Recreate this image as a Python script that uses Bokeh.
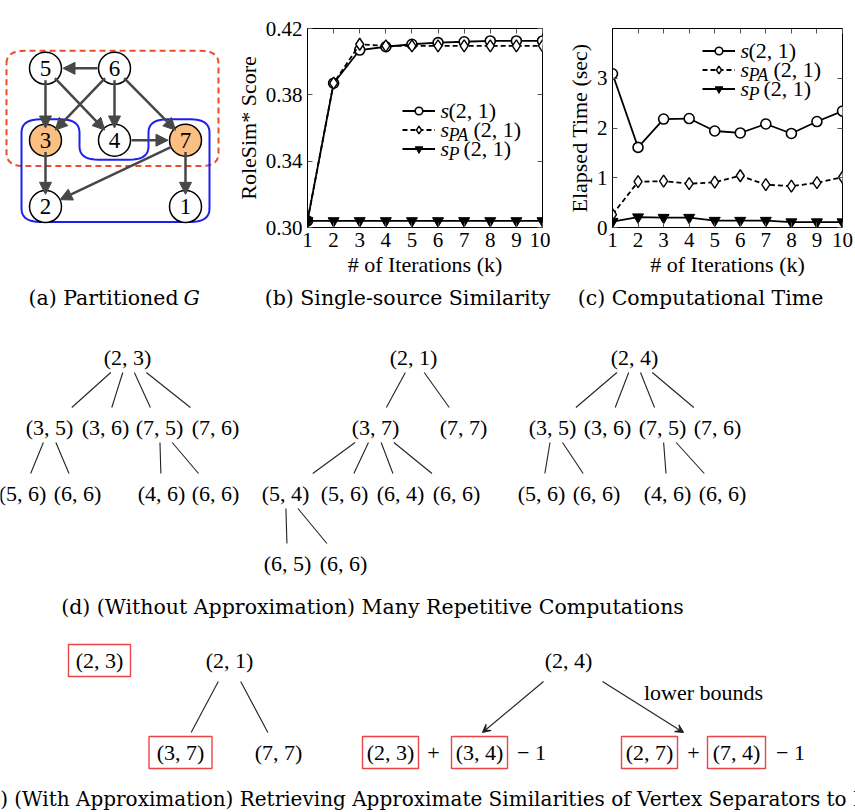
import numpy as np
from bokeh.plotting import figure
from bokeh.layouts import column, row
from bokeh.models import (ColumnDataSource, Range1d, LinearAxis, FixedTicker,
                          PrintfTickFormatter, CustomJSTickFormatter, Legend, LegendItem,
                          Label, Arrow, NormalHead, VeeHead)
from bokeh.core.properties import value
from bokeh.embed import file_html
from bokeh.resources import INLINE

SERIF = "Liberation Serif"
CAPTION_FONT = "DejaVu Serif"
TOP_H = 285

# ---------------- chart data ----------------
iterations = [1, 2, 3, 4, 5, 6, 7, 8, 9, 10]

score_s = [0.304, 0.387, 0.407, 0.409, 0.4105, 0.4115, 0.412, 0.4125, 0.4125, 0.4125]
score_spa = [0.304, 0.387, 0.4105, 0.4095, 0.4095, 0.4095, 0.4095, 0.4095, 0.4095, 0.4095]
score_sp = [0.304, 0.304, 0.304, 0.304, 0.304, 0.304, 0.304, 0.304, 0.304, 0.304]
score_ticks = [0.30, 0.34, 0.38, 0.42]

# elapsed time in units of 1e-4 s
time_s = [3.09, 1.61, 2.18, 2.19, 1.94, 1.90, 2.08, 1.89, 2.13, 2.34]
time_spa = [0.26, 0.92, 0.93, 0.88, 0.91, 1.04, 0.86, 0.83, 0.90, 1.01]
time_sp = [0.12, 0.21, 0.20, 0.20, 0.14, 0.14, 0.14, 0.11, 0.11, 0.11]
time_ticks = [0, 1, 2, 3]

series_subscripts = ["", "PA", "P"]

# ---------------- graph (a) ----------------
node_names = ["5", "6", "3", "4", "7", "2", "1"]
node_x = [45, 114, 45, 114, 185, 45, 185]
node_y = [57, 57, 160, 160, 160, 255, 255]
node_fill = ["white", "white", "#FBBF82", "white", "#FBBF82", "white", "white"]
graph_edges = [("6", "5"), ("5", "3"), ("5", "4"), ("6", "3"), ("6", "4"),
               ("6", "7"), ("4", "7"), ("3", "2"), ("7", "2"), ("7", "1")]
NODE_R = 16

# ---------------- trees (d) ----------------
tree_labels = ["(2, 3)", "(3, 5)", "(3, 6)", "(7, 5)", "(7, 6)",
               "(5, 6)", "(6, 6)", "(4, 6)", "(6, 6)",
               "(2, 1)", "(3, 7)", "(7, 7)", "(5, 4)", "(5, 6)", "(6, 4)", "(6, 6)",
               "(6, 5)", "(6, 6)",
               "(2, 4)", "(3, 5)", "(3, 6)", "(7, 5)", "(7, 6)",
               "(5, 6)", "(6, 6)", "(4, 6)", "(6, 6)"]
tree_x = [127, 49, 105, 159, 215, 22, 77, 161, 215,
          413, 375, 463, 285, 344, 400, 456, 287, 343,
          634, 552, 607, 662, 717, 541, 596, 667, 722]
tree_y = [357, 427, 427, 427, 427, 493, 493, 493, 493,
          357, 427, 427, 493, 493, 493, 493, 563, 563,
          357, 427, 427, 427, 427, 493, 493, 493, 493]
tree_edges = [(0, 1), (0, 2), (0, 3), (0, 4), (1, 5), (1, 6), (3, 7), (3, 8),
              (9, 10), (9, 11), (10, 12), (10, 13), (10, 14), (10, 15), (12, 16), (12, 17),
              (18, 19), (18, 20), (18, 21), (18, 22), (19, 23), (19, 24), (21, 25), (21, 26)]

# ---------------- approximation (e) ----------------
approx_labels = ["(2, 3)", "(2, 1)", "(3, 7)", "(7, 7)", "(2, 4)",
                 "(2, 3)", "(3, 4)", "(2, 7)", "(7, 4)"]
approx_x = [99, 229, 180, 278, 568, 390, 479, 649, 736]
approx_y = [660, 660, 752, 752, 660, 752, 752, 752, 752]
boxed_idx = [0, 2, 5, 6, 7, 8]
box_w = [62, 63, 56, 56, 56, 58]
approx_edges = [(1, 2), (1, 3)]
ops_text = ["+", "\u2212 1", "+", "\u2212 1"]
ops_x = [433, 531, 693, 790]
ops_y = [752, 752, 752, 752]


def rounded_path(pts, r, n=10):
    xs, ys = [], []
    m = len(pts)
    for i in range(m):
        p0 = np.array(pts[i - 1], float)
        p1 = np.array(pts[i], float)
        p2 = np.array(pts[(i + 1) % m], float)
        d0 = (p0 - p1) / np.linalg.norm(p0 - p1)
        d2 = (p2 - p1) / np.linalg.norm(p2 - p1)
        a = p1 + d0 * r
        b = p1 + d2 * r
        for t in np.linspace(0, 1, n):
            q = (1 - t) ** 2 * a + 2 * (1 - t) * t * p1 + t ** 2 * b
            xs.append(q[0])
            ys.append(q[1])
    xs.append(xs[0])
    ys.append(ys[0])
    return xs, ys


def blank_fig(width, height, x0, x1, y0, y1):
    p = figure(width=width, height=height, x_range=Range1d(x0, x1), y_range=Range1d(y0, y1),
               x_axis_type=None, y_axis_type=None, output_backend="svg",
               toolbar_location=None, min_border=0, outline_line_color=None)
    p.grid.visible = False
    p.background_fill_color = "white"
    p.border_fill_color = "white"
    return p


# ---------------- (a) partitioned graph ----------------
fa = blank_fig(230, TOP_H, 0, 230, TOP_H, 0)

rx, ry = rounded_path([(6, 32), (218, 32), (218, 197), (6, 197)], 18)
fa.line(rx, ry, line_color="#EE4B2B", line_width=2, line_dash="6 4")
bx, by = rounded_path([(21, 130), (79, 130), (79, 188), (148, 188), (148, 130),
                       (209, 130), (209, 277), (21, 277)], 19)
fa.line(bx, by, line_color="#1E1EF0", line_width=2)

pos = {n: (x, y) for n, x, y in zip(node_names, node_x, node_y)}
ex0, ey0, ex1, ey1 = [], [], [], []
for s, t in graph_edges:
    (x0, y0), (x1, y1) = pos[s], pos[t]
    d = np.hypot(x1 - x0, y1 - y0)
    ux, uy = (x1 - x0) / d, (y1 - y0) / d
    ex0.append(x0 + ux * (NODE_R + 1))
    ey0.append(y0 + uy * (NODE_R + 1))
    ex1.append(x1 - ux * (NODE_R + 1.5))
    ey1.append(y1 - uy * (NODE_R + 1.5))
edge_src = ColumnDataSource(dict(x0=ex0, y0=ey0, x1=ex1, y1=ey1))
fa.add_layout(Arrow(x_start="x0", y_start="y0", x_end="x1", y_end="y1", source=edge_src,
                    line_color="#474747", line_width=2.5,
                    end=NormalHead(size=12, fill_color="#474747", line_color="#474747",
                                   line_width=1)))

node_src = ColumnDataSource(dict(x=node_x, y=node_y, name=node_names, fill=node_fill))
fa.circle(x="x", y="y", radius=NODE_R, source=node_src, fill_color="fill",
          line_color="black", line_width=1.5)
fa.text(x="x", y="y", text="name", source=node_src, text_font=value(SERIF),
        text_font_size="23px", text_align="center", text_baseline="middle",
        text_color="black")

blank_labels = CustomJSTickFormatter(code="return ''")


# ---------------- (b), (c) line charts ----------------
def line_chart(width, bl, br, ylabel, yrange, yticks, yfmt, ys, legend_xy, txt):
    p = figure(width=width, height=TOP_H, x_range=Range1d(1, 10), y_range=Range1d(*yrange),
               output_backend="svg", toolbar_location=None,
               min_border_left=bl, min_border_right=br, min_border_top=28,
               min_border_bottom=TOP_H - 227, outline_line_color="black",
               outline_line_width=1)
    p.grid.visible = False
    p.border_fill_color = "white"

    p.xaxis.ticker = FixedTicker(ticks=iterations)
    p.yaxis.ticker = FixedTicker(ticks=yticks)
    if yfmt:
        p.yaxis.formatter = PrintfTickFormatter(format=yfmt)
    p.xaxis.axis_label = "# of Iterations (k)"
    p.yaxis.axis_label = ylabel
    for ax in (p.xaxis, p.yaxis):
        ax.major_tick_in = 5
        ax.major_tick_out = 0
        ax.minor_tick_in = 0
        ax.minor_tick_out = 0
        ax.major_tick_line_color = "#555555"
        ax.axis_line_color = "black"
        ax.major_label_text_font = SERIF
        ax.major_label_text_font_size = "21px"
        ax.major_label_text_color = "black"
        ax.axis_label_text_font = SERIF
        ax.axis_label_text_font_size = "22px"
        ax.axis_label_text_font_style = "normal"
        ax.axis_label_text_color = "black"
        ax.major_label_standoff = 5
        ax.axis_label_standoff = 2

    for loc, ticks in (("right", yticks), ("above", iterations)):
        mirror = LinearAxis(ticker=FixedTicker(ticks=ticks), formatter=blank_labels,
                            major_label_text_font_size="8px",
                            major_label_standoff=0, axis_line_color=None,
                            major_tick_in=5, major_tick_out=0,
                            minor_tick_in=0, minor_tick_out=0,
                            major_tick_line_color="#555555")
        p.add_layout(mirror, loc)

    y_s, y_pa, y_p = ys
    l1 = p.line(iterations, y_s, line_color="black", line_width=1.8)
    m1 = p.scatter(iterations, y_s, marker="circle", size=10, fill_color="white",
                   line_color="black", line_width=1.6)
    l2 = p.line(iterations, y_pa, line_color="black", line_width=1.8, line_dash="5 3")
    m2 = p.scatter(iterations, y_pa, marker="diamond", size=12, fill_color="white",
                   line_color="black", line_width=1.4)
    l3 = p.line(iterations, y_p, line_color="black", line_width=1.8)
    m3 = p.scatter(iterations, y_p, marker="inverted_triangle", size=11,
                   fill_color="black", line_color="black")

    legend = Legend(items=[LegendItem(label=value(""), renderers=[l1, m1]),
                           LegendItem(label=value(""), renderers=[l2, m2]),
                           LegendItem(label=value(""), renderers=[l3, m3])],
                    location=legend_xy, glyph_width=33, glyph_height=19,
                    label_width=0, label_height=19, label_standoff=0, spacing=0,
                    padding=0, margin=0, border_line_color=None,
                    background_fill_alpha=0, label_text_font_size="10px")
    p.add_layout(legend)

    xs, xsub, xpar, rows = txt
    for k in range(3):
        yy = rows[k]
        p.add_layout(Label(x=xs, y=yy, x_units="screen", y_units="screen", text="s",
                           text_font=SERIF, text_font_style="italic",
                           text_font_size="22px", text_baseline="middle",
                           text_color="black"))
        if series_subscripts[k]:
            p.add_layout(Label(x=xsub, y=yy - 5, x_units="screen", y_units="screen",
                               text=series_subscripts[k], text_font=SERIF,
                               text_font_style="italic", text_font_size="18px",
                               text_baseline="middle", text_color="black"))
        p.add_layout(Label(x=xpar[k], y=yy, x_units="screen", y_units="screen",
                           text="(2, 1)", text_font=SERIF, text_font_size="22px",
                           text_baseline="middle", text_color="black"))
    return p


fb = line_chart(320, 77, 8, "RoleSim* Score", (0.30, 0.42), score_ticks, "%.2f",
                (score_s, score_spa, score_sp), (95, 69.5),
                (133, 141, [141, 166, 156], [117, 98, 79]))
fc = line_chart(305, 62, 13, "Elapsed Time (sec)", (0, 4), time_ticks, None,
                (time_s, time_spa, time_sp), (90, 129.5),
                (128, 136, [136, 161, 151], [177, 158, 139]))
fc.add_layout(Label(x=8, y=210, x_units="screen", y_units="screen", text="\u00b710",
                    text_font=SERIF, text_font_size="21px", text_baseline="middle",
                    text_color="black"))
fc.add_layout(Label(x=34, y=215, x_units="screen", y_units="screen", text="\u22124",
                    text_font=SERIF, text_font_size="15px", text_baseline="middle",
                    text_color="black"))

# ---------------- lower panel: captions, trees ----------------
fd = blank_fig(855, 812 - TOP_H, 0, 855, 812, TOP_H)

# captions of the upper row
fd.text(x=[178], y=[297], text=["(a) Partitioned"], text_font=value(CAPTION_FONT),
        text_font_size="20.5px", text_align="right", text_baseline="middle",
        text_color="black")
fd.text(x=[183], y=[297], text=["G"], text_font=value(CAPTION_FONT), text_font_style="italic",
        text_font_size="20.5px", text_align="left", text_baseline="middle",
        text_color="black")
fd.text(x=[407, 700], y=[297, 297],
        text=["(b) Single-source Similarity", "(c) Computational Time"],
        text_font=value(CAPTION_FONT), text_font_size="20.5px", text_align="center",
        text_baseline="middle", text_color="black")

# tree edges: segments along the centre line, trimmed near the labels
sx0, sy0, sx1, sy1 = [], [], [], []
for a, b in tree_edges:
    px, py, cx, cy = tree_x[a], tree_y[a], tree_x[b], tree_y[b]
    t0 = 15 / (cy - py)
    t1 = (cy - py - 20) / (cy - py)
    sx0.append(px + (cx - px) * t0)
    sy0.append(py + (cy - py) * t0)
    sx1.append(px + (cx - px) * t1)
    sy1.append(py + (cy - py) * t1)
for a, b in approx_edges:
    px, py, cx, cy = approx_x[a], approx_y[a], approx_x[b], approx_y[b]
    t0 = 21 / (cy - py)
    t1 = (cy - py - 20) / (cy - py)
    sx0.append(px + (cx - px) * t0)
    sy0.append(py + (cy - py) * t0)
    sx1.append(px + (cx - px) * t1)
    sy1.append(py + (cy - py) * t1)
fd.segment(x0=sx0, y0=sy0, x1=sx1, y1=sy1, line_color="#222222", line_width=1.1)

fd.text(x=tree_x, y=tree_y, text=tree_labels, text_font=value(SERIF), text_font_size="22px",
        text_align="center", text_baseline="middle", text_color="black")
fd.text(x=[372], y=[606], text=["(d) (Without Approximation) Many Repetitive Computations"],
        text_font=value(CAPTION_FONT), text_font_size="20.5px", text_align="center",
        text_baseline="middle", text_color="black")

# (e) approximate retrieval
fd.rect(x=[approx_x[i] for i in boxed_idx], y=[approx_y[i] for i in boxed_idx],
        width=box_w, height=32, fill_color=None, line_color="#E8242A", line_width=1.4,
        line_alpha=0.85)
fd.text(x=approx_x, y=approx_y, text=approx_labels, text_font=value(SERIF),
        text_font_size="22px", text_align="center", text_baseline="middle",
        text_color="black")
fd.text(x=ops_x, y=ops_y, text=ops_text, text_font=value(SERIF), text_font_size="22px",
        text_align="center", text_baseline="middle", text_color="black")
arrow_src = ColumnDataSource(dict(x0=[543, 602], y0=[681, 681], x1=[482, 683], y1=[732, 732]))
fd.add_layout(Arrow(x_start="x0", y_start="y0", x_end="x1", y_end="y1", source=arrow_src,
                    line_color="#222222", line_width=1.1,
                    end=VeeHead(size=8, line_color="#222222", line_width=1.1,
                                fill_color="#222222")))
fd.text(x=[703], y=[692], text=["lower bounds"], text_font=value(SERIF),
        text_font_size="22px", text_align="center", text_baseline="middle",
        text_color="black")
fd.add_layout(Label(x=-20, y=798, text=("(e) (With Approximation) Retrieving Approximate "
                                        "Similarities of Vertex Separators to Non-separators"),
                    text_font=CAPTION_FONT, text_font_size="20px", text_baseline="middle",
                    text_color="black"))

layout = column(row(fa, fb, fc), fd)
open("out.html", "w").write(file_html(layout, INLINE))
